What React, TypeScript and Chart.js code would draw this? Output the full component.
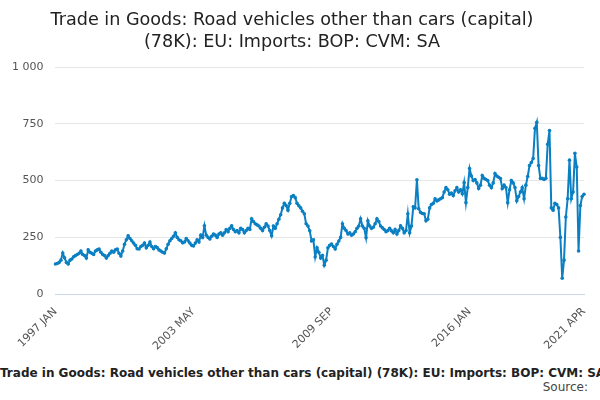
import React, { useEffect, useRef } from "react";
import { Chart, registerables } from "chart.js";
Chart.register(...registerables);

const MONTHS = ["JAN","FEB","MAR","APR","MAY","JUN","JUL","AUG","SEP","OCT","NOV","DEC"];
const startYear = 1997;
const values: number[] = [
  133,135,140,150,181,160,140,133,150,155,165,170,
  175,180,190,175,170,159,195,185,180,175,190,195,
  199,185,175,170,159,170,180,190,185,195,199,180,
  168,190,220,240,257,245,235,225,215,200,199,210,
  215,225,204,215,230,210,200,210,205,195,190,185,
  181,200,220,235,245,255,270,250,240,235,226,230,
  245,235,225,215,212,225,240,230,260,250,301,260,
  250,243,255,265,260,250,265,270,260,270,285,275,
  290,301,285,275,280,270,290,285,270,280,290,285,
  332,320,310,305,300,290,280,295,310,300,280,257,
  300,290,310,330,350,380,400,390,370,400,430,434,
  425,400,389,380,365,354,310,300,279,234,240,164,
  204,185,159,170,128,150,204,215,221,210,199,220,
  234,250,310,290,280,265,270,260,265,275,290,300,
  332,300,290,248,323,300,290,295,310,332,320,300,
  292,285,275,280,290,279,270,285,265,280,301,290,
  270,280,354,270,300,385,380,504,376,360,355,354,
  323,330,380,395,400,420,410,415,420,425,450,469,
  460,440,445,434,455,469,450,460,442,491,403,470,
  553,520,500,505,490,465,480,522,510,505,500,480,
  469,490,531,520,515,509,465,480,470,403,460,500,
  490,470,411,430,450,469,420,480,518,566,580,597,
  730,757,566,509,510,505,510,660,720,380,370,400,
  395,380,250,70,150,340,420,590,420,450,620,560,190,390,430,440,
];
const labels: string[] = values.map((_, i) => `${startYear + Math.floor(i / 12)} ${MONTHS[i % 12]}`);
const labelledTicks = [0, 76, 152, 228, 291];
const tickStep = 19;

const TITLE = ["Trade in Goods: Road vehicles other than cars (capital)", "(78K): EU: Imports: BOP: CVM: SA"];
const FOOTER = "Trade in Goods: Road vehicles other than cars (capital) (78K): EU: Imports: BOP: CVM: SA";

export default function App() {
  const ref = useRef<HTMLCanvasElement>(null);
  useEffect(() => {
    const chart = new Chart(ref.current!, {
      type: "line",
      data: {
        labels,
        datasets: [{
          data: values,
          borderColor: "#0a7fc2",
          backgroundColor: "#0a7fc2",
          borderWidth: 2,
          pointRadius: 1.8,
          pointBorderWidth: 0,
          tension: 0,
        }],
      },
      options: {
        animation: false,
        responsive: false,
        layout: { padding: { left: 0, right: 16, top: 0 } },
        plugins: {
          legend: { display: false },
          tooltip: { enabled: false },
          title: {
            display: true,
            text: TITLE,
            color: "#222",
            font: { family: "DejaVu Sans", size: 17.6, weight: "normal", lineHeight: 1.25 },
            padding: { top: 9, bottom: 14 },
          },
        },
        scales: {
          x: {
            type: "category",
            afterBuildTicks: (axis: any) => {
              const t: any[] = [];
              for (let i = 0; i < values.length - 3; i += tickStep) t.push({ value: i });
              t.push({ value: values.length - 1 });
              axis.ticks = t;
            },
            ticks: {
              autoSkip: false,
              maxRotation: 45,
              minRotation: 45,
              color: "#555",
              font: { family: "DejaVu Sans", size: 11 },
              callback: (v: any) => (labelledTicks.includes(Number(v)) ? labels[Number(v)] : ""),
            },
            grid: { display: false, drawTicks: true, tickLength: 8, tickColor: "#ccd6eb" },
            border: { color: "#ccd6eb" },
          },
          y: {
            min: 0,
            max: 1000,
            ticks: {
              stepSize: 250,
              color: "#555",
              padding: 12,
              font: { family: "DejaVu Sans", size: 11 },
              callback: (v: any) => (Number(v) >= 1000 ? "1 000" : String(v)),
            },
            grid: { color: "#e6e6e6", drawTicks: false },
            border: { display: false },
          },
        },
      },
    });
    return () => chart.destroy();
  }, []);
  return (
    <div style={{ position: "fixed", left: 0, top: 0, width: 600, height: 400, background: "#fff", overflow: "hidden" }}>
      <canvas ref={ref} width={600} height={356} style={{ display: "block" }} />
      <div style={{ width: 600, whiteSpace: "nowrap", overflow: "hidden", fontFamily: "DejaVu Sans", fontWeight: "bold", fontSize: 12, color: "#222", marginTop: 10 }}>
        {FOOTER}
      </div>
      <div style={{ textAlign: "right", paddingRight: 12, fontFamily: "DejaVu Sans", fontSize: 12, color: "#444", marginTop: 0 }}>Source:</div>
    </div>
  );
}
